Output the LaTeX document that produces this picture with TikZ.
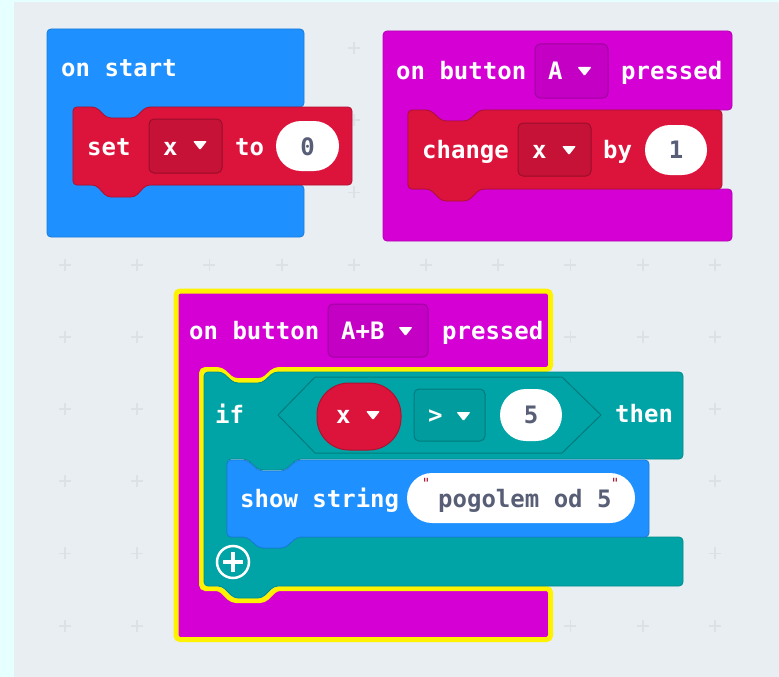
\documentclass[tikz,border=0pt]{standalone}
\usepackage{fontspec}
\newfontfamily\blockfont{DejaVu Sans Mono}

\definecolor{bgcyan}{HTML}{E6FFFF}
\definecolor{bggray}{HTML}{E9EEF2}
\definecolor{gridmark}{HTML}{DCE1E6}
\definecolor{basicblue}{HTML}{1E90FF}
\definecolor{varred}{HTML}{DC143C}
\definecolor{inputpink}{HTML}{D400D4}
\definecolor{logicteal}{HTML}{00A4A6}
\definecolor{selyellow}{HTML}{FFF200}
\definecolor{pilltext}{HTML}{575E75}

\tikzset{
    blk/.style={rounded corners=4, line width=0.8},
    dropbox/.style={rounded corners=5, line width=1},
    lbl/.style={font=\blockfont\bfseries\fontsize{24}{24}\selectfont, text=white, inner sep=0pt, anchor=base west},
    pilllbl/.style={lbl, text=pilltext, anchor=base},
    quotelbl/.style={lbl, text=varred!75!black, font=\blockfont\fontsize{14}{14}\selectfont, anchor=north},
}
\newcommand{\droparrow}[2]{\fill[white, rounded corners=1] ({#1-7},{#2}) -- ({#1+7},{#2}) -- ({#1},{#2+9}) -- cycle;}

\begin{document}
\begin{tikzpicture}[x=1pt, y=-1pt]
    \useasboundingbox (0,0) rectangle (779,677);
    \fill[bgcyan] (0,0) rectangle (779,677);
    \fill[bggray] (14,2) rectangle (779,677);

    %grid marks
    \foreach \i in {0,...,9}
        \foreach \j in {0,...,8} {
            \draw[gridmark, line width=1.8] ({65+72.2*\i-6},{48+72.2*\j}) -- ++(12,0);
            \draw[gridmark, line width=1.8] ({65+72.2*\i},{48+72.2*\j-6}) -- ++(0,12);
        }

    %on start
    \filldraw[blk, basicblue, draw=basicblue!85!black] (47,29) -- (304,29) -- (304,107) -- (146,107) -- (135,118) -- (107,118) -- (96,107) -- (73,107) -- (73,185) -- (304,185) -- (304,237) -- (47,237) -- cycle;
    \node[lbl] (onstart) at (61,77) {on start};

    %set x to 0
    \filldraw[blk, varred, draw=varred!80!black] (73,107) -- (96,107) -- (107,118) -- (135,118) -- (146,107) -- (352,107) -- (352,185) -- (146,185) -- (135,197) -- (107,197) -- (96,185) -- (73,185) -- cycle;
    \node[lbl] (settxt) at (87,155) {set};
    \filldraw[dropbox, varred!90!black, draw=varred!70!black] (149,119) rectangle (222,173);
    \node[lbl] (setvar) at (163,155) {x};
    \droparrow{200}{141}
    \node[lbl] (totxt) at (235,155) {to};
    \fill[white, rounded corners=25] (276,121) rectangle (339,171);
    \node[pilllbl] (zeroval) at (307.5,155) {0};

    %on button A pressed
    \filldraw[blk, inputpink, draw=inputpink!85!black] (383,31) -- (732,31) -- (732,110) -- (480,110) -- (468,121) -- (442,121) -- (430,110) -- (408,110) -- (408,189) -- (732,189) -- (732,241) -- (383,241) -- cycle;
    \node[lbl] (onbtna) at (396,80) {on button};
    \filldraw[dropbox, inputpink!92!black, draw=inputpink!75!black] (535,44) rectangle (608,98);
    \node[lbl] (btna) at (548,80) {A};
    \droparrow{584.5}{67}
    \node[lbl] (presseda) at (621,80) {pressed};

    %change x by 1
    \filldraw[blk, varred, draw=varred!80!black] (408,110) -- (430,110) -- (442,121) -- (468,121) -- (480,110) -- (722,110) -- (722,189) -- (480,189) -- (468,201) -- (442,201) -- (430,189) -- (408,189) -- cycle;
    \node[lbl] (changetxt) at (422,158) {change};
    \filldraw[dropbox, varred!90!black, draw=varred!70!black] (518,123) rectangle (591,176);
    \node[lbl] (changevar) at (532,158) {x};
    \droparrow{569}{146}
    \node[lbl] (bytxt) at (603,158) {by};
    \fill[white, rounded corners=25] (645,125) rectangle (707,175);
    \node[pilllbl] (oneval) at (676,158) {1};

    %on button A+B pressed (selected)
    \filldraw[rounded corners=4, inputpink, draw=selyellow, line width=5] (176,291) -- (550.5,291) -- (550.5,369.5) -- (275,369.5) -- (263,380.5) -- (233,380.5) -- (221,369.5) -- (201.5,369.5) -- (201.5,588.5) -- (220,588.5) -- (232,600.5) -- (264,600.5) -- (276,588.5) -- (550.5,588.5) -- (550.5,639.5) -- (176,639.5) -- cycle;
    \node[lbl] (onbtnab) at (189,339) {on button};
    \filldraw[dropbox, inputpink!92!black, draw=inputpink!75!black] (328,304) rectangle (428,357);
    \node[lbl] (btnab) at (341,339) {A+B};
    \droparrow{405.5}{327}
    \node[lbl] (pressedab) at (442,339) {pressed};

    %if then
    \filldraw[blk, logicteal, draw=logicteal!85!black] (204,372) -- (222,372) -- (234,383) -- (262,383) -- (274,372) -- (683,372) -- (683,459) -- (297,459) -- (285,470) -- (259,470) -- (247,459) -- (227,459) -- (227,537) -- (247,537) -- (259,548) -- (285,548) -- (297,537) -- (683,537) -- (683,586) -- (274,586) -- (262,598) -- (234,598) -- (222,586) -- (204,586) -- cycle;
    \node[lbl] (iftxt) at (215,423) {if};
    \filldraw[logicteal, draw=logicteal!75!black, line width=1] (278,415) -- (315,377) -- (562,377) -- (601,415) -- (562,453) -- (315,453) -- cycle;
    \filldraw[varred, draw=varred!80!black, line width=1, rounded corners=32] (317,383) rectangle (401,450);
    \node[lbl] (condvar) at (336,423) {x};
    \droparrow{373}{411}
    \filldraw[dropbox, logicteal!95!black, draw=logicteal!75!black] (414,389) rectangle (485,441);
    \node[lbl] (condop) at (428,423) {>};
    \droparrow{463.5}{412}
    \fill[white, rounded corners=26] (500,389) rectangle (562,441);
    \node[pilllbl] (fiveval) at (531,423) {5};
    \node[lbl] (thentxt) at (615,422) {then};

    %show string
    \filldraw[blk, basicblue, draw=basicblue!85!black] (227,460) -- (247,460) -- (259,471) -- (285,471) -- (297,460) -- (649,460) -- (649,537) -- (297,537) -- (285,548) -- (259,548) -- (247,537) -- (227,537) -- cycle;
    \node[lbl] (showtxt) at (240,507) {show string};
    \fill[white, rounded corners=25] (407,473) rectangle (635,523);
    \node[quotelbl] (qleft) at (426,478) {"};
    \node[quotelbl] (qright) at (615,478) {"};
    \node[lbl, text=pilltext] (strval) at (438,507) {pogolem od 5};

    %add button
    \draw[white, line width=2.5] (233,562) circle (16);
    \draw[white, line width=4.5] (223,562) -- (243,562) (233,552) -- (233,572);
\end{tikzpicture}
\end{document}
